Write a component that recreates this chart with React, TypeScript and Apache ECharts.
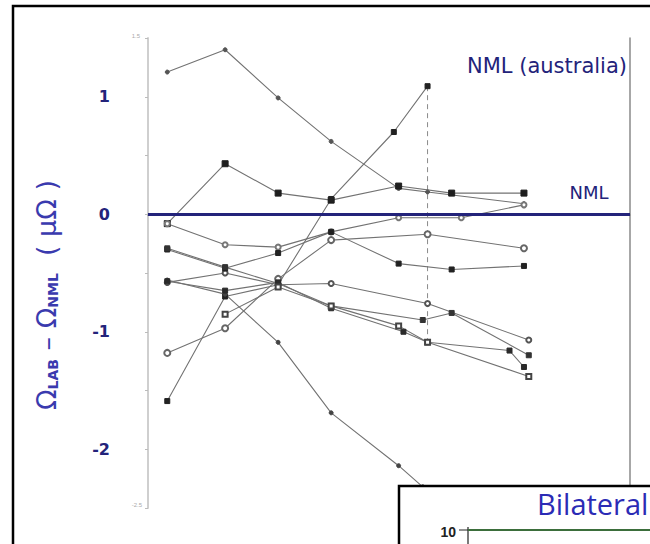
import React, { useEffect, useRef } from "react";
import * as echarts from "echarts";

// x positions are measurement sessions on an arbitrary 0–100 scale
const s1 = [[4, 1.21], [16, 1.40], [27, 0.99], [38, 0.62], [52, 0.22], [58, 0.19], [78, 0.09]];
const s2 = [[4, -0.08], [16, 0.43], [27, 0.18], [38, 0.12], [52, 0.24], [63, 0.18], [78, 0.18]];
const sRise = [[4, -1.59], [16, -0.70], [27, -0.60], [38, 0.13], [51, 0.70], [58, 1.09]];
const sFall = [[4, -0.56], [16, -0.68], [27, -1.09], [38, -1.69], [52, -2.14], [57, -2.32], [62, -2.48]];
const sF = [[4, -0.58], [16, -0.50], [27, -0.60], [38, -0.59], [58, -0.76], [79, -1.07]];
const s3 = [[4, -0.08], [16, -0.26], [27, -0.28], [38, -0.15], [52, -0.03], [65, -0.03], [78, 0.08]];
const sD = [[4, -1.18], [16, -0.97], [27, -0.55], [38, -0.22], [58, -0.17], [78, -0.29]];
const sE = [[4, -0.30], [16, -0.46], [27, -0.33], [38, -0.15], [52, -0.42], [63, -0.47], [78, -0.44]];
const sG = [[4, -0.29], [16, -0.45], [27, -0.59], [38, -0.78], [57, -0.90], [63, -0.84], [79, -1.20]];
const sH = [[4, -0.57], [16, -0.65], [27, -0.58], [38, -0.80], [53, -1.00], [58, -1.09], [75, -1.16], [78, -1.30]];
const sI = [[16, -0.85], [27, -0.62], [38, -0.78], [52, -0.95], [58, -1.09], [79, -1.38]];
const dashed = [[58, 1.09], [58, -1.09]];
const yTicks = [1, 0, -1, -2];

const NAVY = "#23237a";
const LINE = "#727272";

const mk = (data: number[][], symbol: string, size: number, color = "#333") => ({
  type: "line",
  data,
  symbol,
  symbolSize: size,
  showSymbol: true,
  lineStyle: { color: LINE, width: 1.1 },
  itemStyle: { color, borderColor: color, borderWidth: 1 },
  z: 3,
});

export default function App() {
  const ref = useRef<HTMLDivElement>(null);
  useEffect(() => {
    if (!ref.current) return;
    const chart = echarts.init(ref.current, undefined, { renderer: "svg" });
    chart.setOption({
      animation: false,
      backgroundColor: "#ffffff",
      grid: { left: 148, right: 20, top: 38, bottom: 36 },
      xAxis: {
        type: "value",
        min: 0,
        max: 100,
        position: "top",
        axisLine: { show: true, lineStyle: { color: "#8a8a8a", width: 1.5 } },
        axisTick: { show: false },
        axisLabel: { show: false },
        splitLine: { show: false },
      },
      yAxis: [
        {
          type: "value",
          min: -2.5,
          max: 1.5,
          interval: 0.5,
          axisLine: { show: true, lineStyle: { color: "#cfcfcf", width: 2 } },
          axisTick: { show: true, length: 3, inside: false, lineStyle: { color: "#bbbbbb" } },
          axisLabel: {
            margin: 38,
            color: NAVY,
            fontWeight: "bold",
            fontSize: 16,
            fontFamily: "DejaVu Sans",
            formatter: (v: number) => (yTicks.indexOf(v) >= 0 ? String(v) : ""),
          },
          splitLine: { show: false },
        },
        {
          type: "value",
          min: -2.5,
          max: 1.5,
          interval: 0.5,
          position: "right",
          axisLine: { show: true, lineStyle: { color: "#8a8a8a", width: 1.5 } },
          axisTick: { show: false },
          axisLabel: { show: false },
          splitLine: { show: false },
        },
      ],
      series: [
        {
          type: "line",
          data: [],
          markLine: {
            silent: true,
            symbol: "none",
            label: { show: false },
            lineStyle: { color: NAVY, width: 3, type: "solid" },
            data: [{ yAxis: 0 }],
          },
          z: 2,
        },
        {
          type: "line",
          data: dashed,
          symbol: "none",
          lineStyle: { color: "#8a8a8a", width: 1, type: [5, 4] },
          z: 1,
        },
        mk(s1, "circle", 4, "#555"),
        mk(s2, "rect", 6, "#1e1e1e"),
        mk(sRise, "rect", 5, "#222"),
        mk(sFall, "circle", 4, "#444"),
        mk(sF, "emptyCircle", 5, "#555"),
        mk(s3, "emptyCircle", 5, "#777"),
        mk(sD, "emptyCircle", 6, "#666"),
        mk(sE, "rect", 5, "#222"),
        mk(sG, "rect", 5, "#333"),
        mk(sH, "rect", 5, "#2a2a2a"),
        mk(sI, "emptyRect", 5, "#444"),
      ],
      graphic: [
        {
          type: "text",
          x: 627,
          y: 66,
          style: {
            text: "NML (australia)",
            align: "right",
            verticalAlign: "middle",
            fontSize: 21,
            fontFamily: "DejaVu Sans",
            fill: NAVY,
          },
          z: 10,
        },
        {
          type: "text",
          x: 589,
          y: 192,
          style: {
            text: "NML",
            align: "center",
            verticalAlign: "middle",
            fontSize: 18,
            fontFamily: "DejaVu Sans",
            fill: NAVY,
          },
          z: 10,
        },
        {
          type: "text",
          x: 140,
          y: 36,
          style: { text: "1.5", align: "right", verticalAlign: "middle", fontSize: 6, fill: "#aaaaaa" },
        },
        {
          type: "text",
          x: 142,
          y: 505,
          style: { text: "-2.5", align: "right", verticalAlign: "middle", fontSize: 6, fill: "#aaaaaa" },
        },
        {
          type: "text",
          x: 46,
          y: 295,
          rotation: Math.PI / 2,
          style: {
            text: "{a|Ω}{s|LAB}{a| – Ω}{s|NML}{a|  ( μΩ )}",
            align: "center",
            verticalAlign: "middle",
            fill: "#3a3aae",
            rich: {
              a: { fontSize: 27, fontFamily: "DejaVu Sans", fill: "#3a3aae" },
              s: { fontSize: 14, fontFamily: "DejaVu Sans", fontWeight: "bold", fill: "#3a3aae", padding: [13, 0, 0, 0] },
            },
          },
          z: 10,
        },
        // frame
        {
          type: "rect",
          shape: { x: 13, y: 6, width: 700, height: 600 },
          style: { fill: "none", stroke: "#000000", lineWidth: 2.5 },
          z: 20,
        },
        // inset of the following slide
        {
          type: "rect",
          shape: { x: 399, y: 486, width: 300, height: 100 },
          style: { fill: "#ffffff", stroke: "#000000", lineWidth: 2.5 },
          z: 30,
        },
        {
          type: "text",
          x: 537,
          y: 503,
          style: {
            text: "Bilateral",
            align: "left",
            verticalAlign: "middle",
            fontSize: 29,
            fontFamily: "Open Sans",
            fill: "#2b2bb5",
          },
          z: 31,
        },
        {
          type: "text",
          x: 456,
          y: 532,
          style: {
            text: "10",
            align: "right",
            verticalAlign: "middle",
            fontSize: 14,
            fontFamily: "Liberation Sans",
            fontWeight: "bold",
            fill: "#222",
          },
          z: 31,
        },
        {
          type: "line",
          shape: { x1: 459, y1: 530, x2: 468, y2: 530 },
          style: { stroke: "#222", lineWidth: 1 },
          z: 31,
        },
        {
          type: "line",
          shape: { x1: 468, y1: 527, x2: 468, y2: 550 },
          style: { stroke: "#222", lineWidth: 1.2 },
          z: 31,
        },
        {
          type: "line",
          shape: { x1: 468, y1: 530, x2: 660, y2: 530 },
          style: { stroke: "#3b6e3b", lineWidth: 2 },
          z: 31,
        },
      ],
    });
    return () => chart.dispose();
  }, []);
  return (
    <div
      ref={ref}
      style={{ position: "absolute", left: 0, top: 0, width: 650, height: 544 }}
    />
  );
}
